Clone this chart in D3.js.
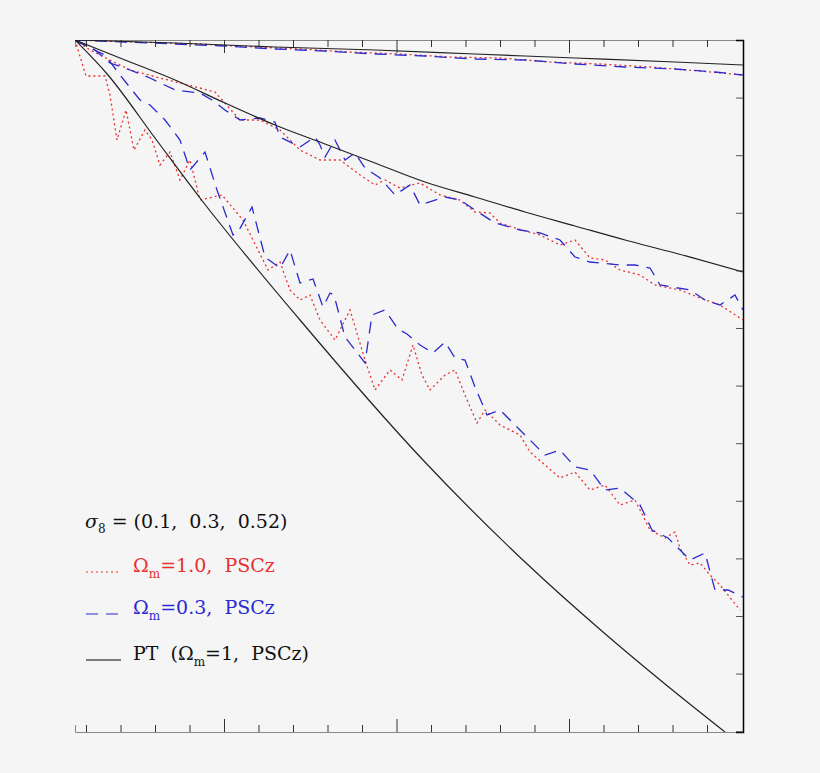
<!DOCTYPE html>
<html>
<head>
<script src="https://d3js.org/d3.v7.min.js"></script>
<style>
body { margin: 0; background: #f5f5f5; }
text { white-space: pre; }
</style>
</head>
<body>
<div id="chart"></div>
<script>
// values, in plot units (x: 0..668 across, y: 0..692 down)
var ptTop = [[0,0],[100,3],[200,7],[300,10],[400,14],[500,18],[600,22],[668,25]];
var ptMid = [[0,0],[50,20],[100,40],[150,63],[200,85],[250,104],[300,123],[350,142],[400,157],[450,172],[500,186],[550,200],[600,213],[668,232]];
var ptLow = [[0,0],[33,35],[80,98],[125,158],[225,280],[348,420],[450,522],[528,592],[590,644],[650,692]];

var redTop = [[0,0],[60,2],[125,4],[180,7],[225,9],[275,12],[325,14],[375,17],[425,18],[475,22],[525,24],[575,27],[625,31],[668,35]];
var blueTop = [[0,0],[50,2],[100,4],[150,6],[200,9],[250,11],[300,14],[350,16],[400,19],[450,20],[500,24],[550,27],[600,29],[640,32],[668,35]];

var redMid = [[0,0],[15,10],[35,20],[55,30],[85,38],[125,48],[140,52],[165,80],[185,80],[205,90],[225,110],[245,120],[265,120],[285,135],[300,145],[310,140],[325,148],[345,143],[365,155],[385,160],[400,172],[415,173],[425,183],[440,188],[465,195],[485,205],[500,200],[515,218],[530,220],[545,230],[565,235],[580,245],[605,250],[625,258],[645,265],[668,280]];
var blueMid = [[0,0],[20,10],[35,23],[55,30],[75,38],[100,50],[125,53],[137,60],[150,70],[165,80],[185,78],[200,82],[205,97],[225,107],[240,97],[245,105],[250,117],[260,100],[270,120],[280,113],[290,128],[305,138],[320,155],[335,145],[345,165],[370,157],[385,160],[400,170],[420,183],[445,190],[465,193],[485,200],[500,217],[515,222],[545,225],[560,225],[575,228],[585,245],[615,250],[630,260],[645,265],[660,255],[668,270]];

var redLow = [[0,0],[11,36],[30,36],[35,55],[42,100],[51,70],[59,110],[70,90],[77,100],[85,125],[95,112],[105,140],[115,120],[125,160],[147,155],[168,180],[183,210],[193,230],[205,222],[215,250],[225,260],[235,255],[245,280],[260,300],[270,280],[275,270],[290,320],[300,350],[315,330],[327,340],[338,305],[347,335],[355,350],[370,335],[380,330],[390,355],[402,383],[410,370],[425,385],[445,395],[455,412],[485,438],[500,432],[515,450],[530,445],[545,465],[560,460],[575,490],[590,498],[600,492],[605,508],[615,525],[625,523],[635,535],[645,545],[665,570]];
var blueLow = [[0,0],[15,8],[30,15],[45,35],[65,60],[75,65],[90,80],[105,100],[115,130],[130,112],[142,150],[158,195],[163,192],[177,167],[190,217],[205,228],[215,210],[225,243],[238,239],[248,267],[255,253],[259,255],[270,297],[290,323],[297,275],[310,270],[323,289],[332,294],[345,305],[358,313],[370,302],[380,318],[390,320],[400,347],[412,375],[425,370],[445,390],[455,400],[470,415],[485,410],[500,427],[515,430],[530,450],[545,448],[565,465],[577,490],[593,498],[615,520],[630,513],[640,550],[653,550],[668,557]];

var legendRows = [
  { y: 570, color: "#e83030", dash: "2,3", label: ["\u03a9", "m", "=1.0,  PSCz"] },
  { y: 612, color: "#2a2ad0", dash: "12,8", label: ["\u03a9", "m", "=0.3,  PSCz"] },
  { y: 658, color: "#000", dash: null, label: ["PT  (\u03a9", "m", "=1,  PSCz)"] }
];

var W = 820, H = 773;
var L = 75, T = 40, R = 743, B = 732;

var svg = d3.select("#chart").append("svg")
  .attr("width", W).attr("height", H);

var x = d3.scaleLinear().domain([0, 668]).range([L, R]);
var y = d3.scaleLinear().domain([0, 692]).range([T, B]);

svg.append("clipPath").attr("id", "clip")
  .append("rect").attr("x", L).attr("y", T).attr("width", R - L).attr("height", B - T);

// frame
var xt = d3.range(0, 19).map(function(k) { return 11 + 34.5 * k; });
var topAxis = d3.axisTop(x).tickValues(xt).tickSize(-7).tickFormat("");
var botAxis = d3.axisBottom(x).tickValues(xt).tickSize(-7).tickFormat("");
var gTop = svg.append("g").attr("transform", "translate(0," + T + ")").call(topAxis);
var gBot = svg.append("g").attr("transform", "translate(0," + B + ")").call(botAxis);
[gTop, gBot].forEach(function(g) {
  g.select(".domain").attr("stroke", "#888");
  g.selectAll(".tick line").attr("stroke", "#333")
    .attr("y2", function(d, i) { return (i % 5 === 4 ? 13 : 7) * (g === gTop ? 1 : -1); });
});

var yt = d3.range(0, 12).map(function(k) { return 57.6 * (k + 1); });
var rightAxis = d3.axisRight(y).tickValues(yt).tickSize(-7).tickFormat("");
var gR = svg.append("g").attr("transform", "translate(" + R + ",0)").call(rightAxis);
gR.select(".domain").attr("stroke", "#000").attr("stroke-width", 1.5);
gR.selectAll(".tick line").attr("stroke", "#555");

var line = d3.line().x(function(d) { return x(d[0]); }).y(function(d) { return y(d[1]); });
var curve = d3.line().curve(d3.curveMonotoneX).x(function(d) { return x(d[0]); }).y(function(d) { return y(d[1]); });

var plot = svg.append("g").attr("clip-path", "url(#clip)").attr("fill", "none");

[redTop, redMid, redLow].forEach(function(s) {
  plot.append("path").attr("d", line(s)).attr("stroke", "#e83030")
    .attr("stroke-width", 1.3).attr("stroke-dasharray", "2,3");
});
[blueTop, blueMid, blueLow].forEach(function(s) {
  plot.append("path").attr("d", line(s)).attr("stroke", "#2a2ad0")
    .attr("stroke-width", 1.3).attr("stroke-dasharray", "12,8");
});
[ptTop, ptMid, ptLow].forEach(function(s) {
  plot.append("path").attr("d", curve(s)).attr("stroke", "#222").attr("stroke-width", 1.2);
});

// legend
var font = "'DejaVu Serif', 'Liberation Serif', serif";
var t0 = svg.append("text").attr("x", 85).attr("y", 528)
  .style("font-family", font).style("font-size", "19px").attr("fill", "#111");
t0.append("tspan").text("\u03c3").style("font-style", "italic");
t0.append("tspan").text("8").attr("dy", 5).style("font-size", "12px");
t0.append("tspan").text(" = (0.1,  0.3,  0.52)").attr("dy", -5);

legendRows.forEach(function(r) {
  var l = svg.append("line").attr("x1", 86).attr("x2", 121).attr("y1", r.y + 2).attr("y2", r.y + 2)
    .attr("stroke", r.color).attr("stroke-width", 1.2);
  if (r.dash) l.attr("stroke-dasharray", r.dash);
  var t = svg.append("text").attr("x", 133).attr("y", r.y + 2)
    .style("font-family", font).style("font-size", "19px").attr("fill", r.color === "#000" ? "#111" : r.color);
  t.append("tspan").text(r.label[0]);
  t.append("tspan").text(r.label[1]).attr("dy", 6).style("font-size", "12px");
  t.append("tspan").text(r.label[2]).attr("dy", -6);
});
</script>
</body>
</html>
